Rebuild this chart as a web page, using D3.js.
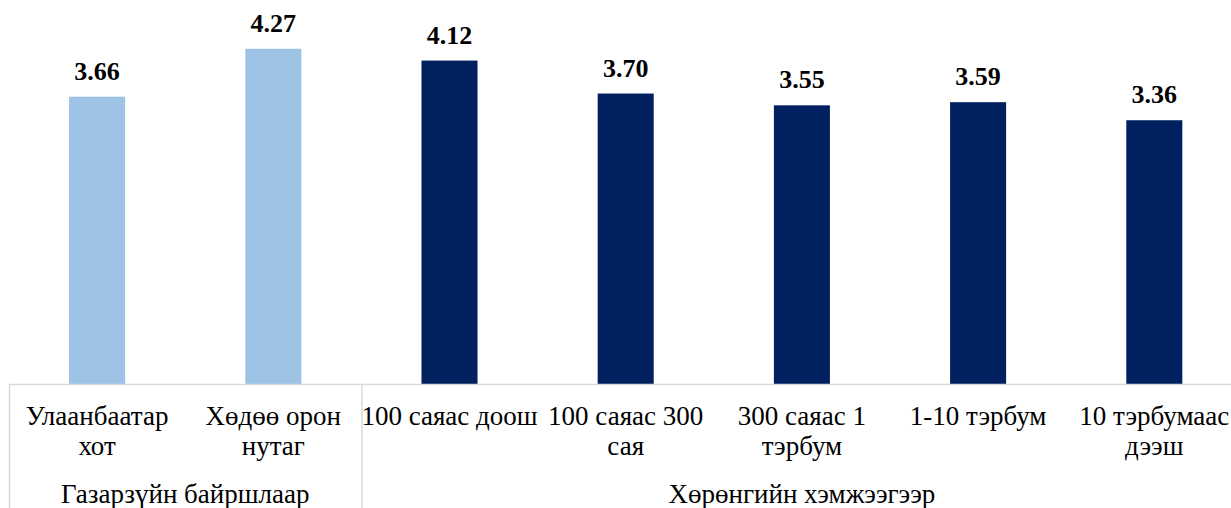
<!DOCTYPE html>
<html>
<head>
<meta charset="utf-8">
<script src="https://cdn.jsdelivr.net/npm/d3@7"></script>
</head>
<body style="margin:0">
<svg id="chart" width="1231" height="508"></svg>
<script>
const categories = ["Улаанбаатар хот","Хөдөө орон нутаг","100 саяас доош","100 саяас 300 сая","300 саяас 1 тэрбум","1-10 тэрбум","10 тэрбумаас дээш"];
const categoryLines = [["Улаанбаатар","хот"],["Хөдөө орон","нутаг"],["100 саяас доош"],["100 саяас 300","сая"],["300 саяас 1","тэрбум"],["1-10 тэрбум"],["10 тэрбумаас","дээш"]];
const values = [3.66, 4.27, 4.12, 3.70, 3.55, 3.59, 3.36];
const groupOf = [0, 0, 1, 1, 1, 1, 1];
const groups = ["Газарзүйн байршлаар", "Хөрөнгийн хэмжээгээр"];
const groupColors = ["#9DC3E6", "#002060"];

const fontFamily = "Liberation Serif, Times New Roman, Tinos, serif";
const svg = d3.select("#chart");
const x0 = 9, step = 176.2, baseY = 384;
const x = d3.scaleBand().domain(categories).range([x0, x0 + step * categories.length]).paddingInner(0.682).paddingOuter(0.341);
const y = d3.scaleLinear().domain([0, 5]).range([baseY, baseY - 5 * 78.5]);

svg.selectAll("rect.bar").data(values).enter().append("rect")
  .attr("x",(d,i)=>x(categories[i]))
  .attr("width",x.bandwidth())
  .attr("y",d=>y(d))
  .attr("height",d=>y(0)-y(d))
  .attr("fill",(d,i)=>groupColors[groupOf[i]]);

svg.selectAll("text.val").data(values).enter().append("text")
  .attr("class","val")
  .attr("x",(d,i)=>x(categories[i])+x.bandwidth()/2)
  .attr("y",d=>y(d)-17)
  .attr("text-anchor","middle")
  .style("font-family",fontFamily)
  .style("font-weight","bold")
  .style("font-size","26px")
  .attr("fill","#000")
  .text(d=>d.toFixed(2));

svg.append("line").attr("x1",x0).attr("x2",1231).attr("y1",baseY+0.5).attr("y2",baseY+0.5)
  .attr("stroke","#d9d9d9").attr("stroke-width",1.5);

// group extents from the band scale
const groupExtent = groups.map((g,gi)=>{
  const idx = groupOf.map((v,i)=>v===gi?i:-1).filter(i=>i>=0);
  const start = x(categories[idx[0]]) - x.step()*x.paddingOuter();
  const end = x(categories[idx[idx.length-1]]) - x.step()*x.paddingOuter() + x.step();
  return [start,end];
});
groupExtent.forEach(([gx])=>{
  svg.append("line").attr("x1",gx+0.5).attr("x2",gx+0.5).attr("y1",baseY).attr("y2",508)
    .attr("stroke","#d9d9d9").attr("stroke-width",1.5);
});

categoryLines.forEach((lines,i)=>{
  const cx = x(categories[i]) + x.bandwidth()/2;
  lines.forEach((l,j)=>{
    svg.append("text").attr("x",cx).attr("y",425 + j*30).attr("text-anchor","middle")
      .style("font-family",fontFamily).style("font-size","27px").attr("fill","#000").text(l);
  });
});

groups.forEach((g,gi)=>{
  const [s,e] = groupExtent[gi];
  svg.append("text").attr("x",(s+e)/2).attr("y",503).attr("text-anchor","middle")
    .style("font-family",fontFamily).style("font-size","27px").attr("fill","#000").text(g);
});
</script>
</body>
</html>
